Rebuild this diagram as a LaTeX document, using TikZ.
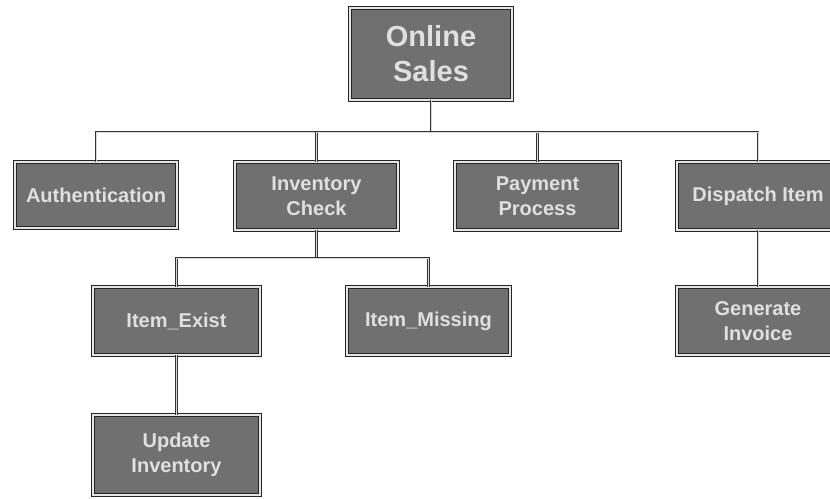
\documentclass[tikz,border=0pt]{standalone}
\usepackage{fontspec}
\setmainfont{Liberation Sans}
\begin{document}
\begin{tikzpicture}[x=1pt,y=-1pt,
  box/.style={draw=black!85, double=black!10, double distance=1.6pt, line width=0.8pt,
    fill=black!56, text=black!12, font=\bfseries\fontsize{20}{25}\selectfont,
    align=center, inner sep=2pt},
  link/.style={draw=black!80, double=black!15, double distance=0.9pt, line width=0.7pt}]
\useasboundingbox (0,0) rectangle (830,498);
\fill[white] (0,0) rectangle (830,498);

% top level
\node[box, minimum width=162pt, minimum height=92pt,
  font=\bfseries\fontsize{29}{35}\selectfont] (root) at (431,54) {Online\\Sales};

% second level
\node[box, minimum width=162pt, minimum height=66pt] (auth) at (96,195) {Authentication};
\node[box, minimum width=163pt, minimum height=68pt] (inv) at (316.5,196) {Inventory\\Check};
\node[box, minimum width=165pt, minimum height=68pt] (pay) at (537.5,196) {Payment\\Process};
\node[box, minimum width=162pt, minimum height=68pt] (disp) at (758,196) {Dispatch Item};

% third level
\node[box, minimum width=167pt, minimum height=68pt] (exist) at (176.5,321) {Item\_Exist};
\node[box, minimum width=163pt, minimum height=68pt] (miss) at (428.5,321) {Item\_Missing};
\node[box, minimum width=162pt, minimum height=68pt] (gen) at (758,321) {Generate\\Invoice};

% fourth level
\node[box, minimum width=167pt, minimum height=80pt] (upd) at (176.5,455) {Update\\Inventory};

% connectors
\coordinate (bus1) at (431,132);
\coordinate (bus2) at (316.5,258);
\draw[link] (root.south) -- (bus1);
\draw[link] (bus1) -| (auth.north);
\draw[link] (bus1) -| (inv.north);
\draw[link] (bus1) -| (pay.north);
\draw[link] (bus1) -| (disp.north);
\draw[link] (inv.south) -- (bus2);
\draw[link] (bus2) -| (exist.north);
\draw[link] (bus2) -| (miss.north);
\draw[link] (disp.south) -- (gen.north);
\draw[link] (exist.south) -- (upd.north);
\end{tikzpicture}
\end{document}
